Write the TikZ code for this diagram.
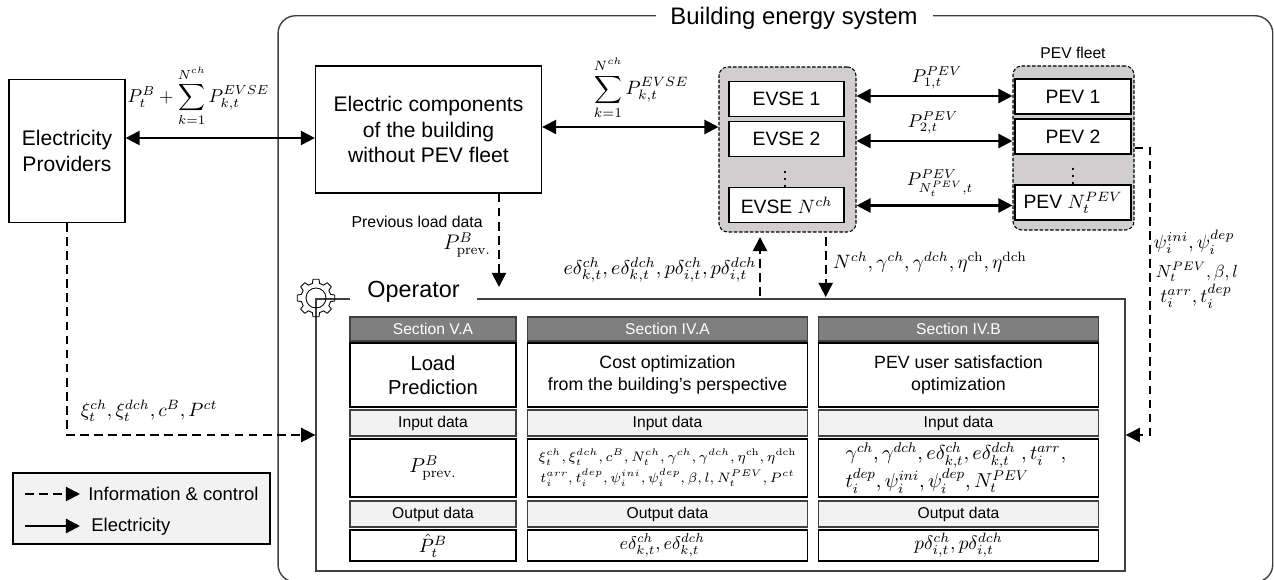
\documentclass[tikz,border=0pt]{standalone}
\usepackage{fix-cm}
\usepackage{amsmath, amssymb}
\usepackage{xcolor}
\usepackage[no-math]{fontspec}
\setmainfont{Liberation Sans}
\usepackage{tikz}
\usetikzlibrary{arrows.meta}

\definecolor{groupgray}{HTML}{D0CECE}
\definecolor{headgray}{HTML}{7F7F7F}
\definecolor{lightgray}{HTML}{F2F2F2}
\definecolor{framegray}{HTML}{404040}

\newcommand{\fs}[1]{\fontsize{#1}{\dimexpr #1pt*6/5\relax}\selectfont}

\tikzset{
	cell/.style = {draw = black, line width = 0.7pt, fill = white, inner sep = 0pt, align = center},
	headcell/.style = {cell, fill = headgray, draw = framegray, text = white, font = \fs{8.9}},
	datacell/.style = {cell, fill = lightgray, draw = framegray, font = \fs{8.9}},
	group/.style = {draw = black, fill = groupgray, line width = 0.6pt, dash pattern = on 2pt off 1pt, rounded corners = 5pt, inner sep = 0pt},
	label/.style = {inner sep = 0pt, align = center},
	elec/.style = {line width = 1.3pt, {Triangle[length = 8pt, width = 8pt]}-{Triangle[length = 8pt, width = 8pt]}},
	info/.style = {line width = 1.1pt, dash pattern = on 5pt off 3pt, -{Triangle[length = 8pt, width = 8pt]}},
}

\begin{document}
\begin{tikzpicture}[x = 0.02cm, y = -0.02cm]
	\def\px{0.02cm}
	\useasboundingbox (0,0) rectangle (1274,580);

	% outer frame and its title
	\node [draw = framegray, line width = 0.8pt, rounded corners = 10pt, minimum width = 994.7*\px, minimum height = 566.3*\px] (bldg) at (775.4,298.9) {};
	\node [fill = white, inner sep = 0pt, minimum width = 277*\px, minimum height = 34*\px, font = \fs{13.6}] (bldgtitle) at (794,18) {Building energy system};

	% top row
	\node [cell, minimum width = 116*\px, minimum height = 143*\px, font = \fs{12}] (prov) at (67,151) {Electricity\\Providers};
	\node [cell, minimum width = 226*\px, minimum height = 127*\px, font = \fs{12}] (comp) at (428.5,129.5) {Electric components\\of the building\\without PEV fleet};

	\node [group, minimum width = 137*\px, minimum height = 165*\px] (evsegrp) at (787.5,149.5) {};
	\node [group, minimum width = 121*\px, minimum height = 164*\px] (pevgrp) at (1073.5,148) {};

	\foreach \nm/\yy/\txt in {evsea/99.2/EVSE 1, evseb/139.2/EVSE 2, evsec/205.2/{EVSE $N^{ch}$}}
		\node [cell, minimum width = 115*\px, minimum height = 35*\px, font = \fs{11}] (\nm) at (786.5,\yy) {\txt};
	\foreach \nm/\yy/\txt in {peva/96.5/PEV 1, pevb/136.5/PEV 2, pevc/202.5/{PEV $N_t^{PEV}$}}
		\node [cell, minimum width = 116*\px, minimum height = 35*\px, font = \fs{11}] (\nm) at (1073,\yy) {\txt};
	\node [label, font = \fs{11}] (evsedots) at (785,174) {$\vdots$};
	\node [label, font = \fs{11}] (pevdots) at (1073,171) {$\vdots$};
	\node [label, font = \fs{8.9}] (pevtitle) at (1073,53) {PEV fleet};

	% operator
	\node [draw = framegray, line width = 0.8pt, minimum width = 809*\px, minimum height = 272*\px] (oper) at (720.5,435) {};
	\node [fill = white, inner sep = 0pt, minimum width = 127*\px, minimum height = 30*\px, font = \fs{13.3}] (opertitle) at (413.5,292) {Operator};
	\draw [line width = 0.5pt, line join = round, shift = {(316,298)}] (-31:15)
		\foreach \a in {0,45,...,315} { -- (\a-14:15) -- (\a-9:19) -- (\a+9:19) -- (\a+14:15) } -- cycle;
	\draw [line width = 0.5pt] (316,298) circle [radius = 10];

	\foreach \col/\xc/\colw/\sectname/\ttlsize/\ttl in {a/433/166/Section V.A/11.5/{Load\\Prediction}, b/667.5/280/Section IV.A/10.1/{Cost optimization\\from the building's perspective}, c/958.5/280/Section IV.B/10.1/{PEV user satisfaction\\optimization}} {
		\node [headcell, minimum width = \colw*\px, minimum height = 24*\px] (head\col) at (\xc,329) {\sectname};
		\node [cell, minimum width = \colw*\px, minimum height = 64*\px, font = \fs{\ttlsize}] (title\col) at (\xc,375) {\ttl};
		\node [datacell, minimum width = \colw*\px, minimum height = 26*\px] (in\col) at (\xc,423) {Input data};
		\node [datacell, minimum width = \colw*\px, minimum height = 26*\px] (out\col) at (\xc,514) {Output data};
	}

	\node [cell, minimum width = 166*\px, minimum height = 58*\px, font = \fs{11.5}] (vala) at (433,468) {$P_{\mathrm{prev.}}^{B}$};
	\node [cell, minimum width = 280*\px, minimum height = 58*\px, font = \fs{7.8}] (valb) at (667.5,468) {$\xi_t^{ch}, \xi_t^{dch}, c^{B}, N_t^{ch}, \gamma^{ch}, \gamma^{dch}, \eta^{\mathrm{ch}}, \eta^{\mathrm{dch}}$\\[1pt]$t_i^{arr}, t_i^{dep}, \psi_i^{ini}, \psi_i^{dep}, \beta, l, N_t^{PEV}, P^{ct}$};
	\node [cell, minimum width = 280*\px, minimum height = 58*\px, font = \fs{11.5}, align = left, text width = 226*\px] (valc) at (958.5,468) {$\gamma^{ch}, \gamma^{dch}, e\delta_{k,t}^{ch}, e\delta_{k,t}^{dch}\;, t_i^{arr},$\\[-1pt]$t_i^{dep}, \psi_i^{ini}, \psi_i^{dep}, N_t^{PEV}$};
	\node [cell, minimum width = 166*\px, minimum height = 31*\px, font = \fs{11}] (resa) at (433,545.5) {$\hat{P}_t^{B}$};
	\node [cell, minimum width = 280*\px, minimum height = 31*\px, font = \fs{10.5}] (resb) at (667.5,545.5) {\hspace{-6pt}$e\delta_{k,t}^{ch}, e\delta_{k,t}^{dch}$};
	\node [cell, minimum width = 280*\px, minimum height = 31*\px, font = \fs{11}] (resc) at (958.5,545.5) {$p\delta_{i,t}^{ch}, p\delta_{i,t}^{dch}$};

	% legend
	\node [datacell, draw = black, minimum width = 257*\px, minimum height = 71*\px] (legend) at (141.5,508.5) {};
	\node [label, anchor = west, font = \fs{10.5}] (legtexta) at (88,494) {Information \& control};
	\node [label, anchor = west, font = \fs{10.5}] (legtextb) at (91,527) {Electricity};
	\coordinate (legafrom) at (25,494);
	\coordinate (legato) at (80,494);
	\coordinate (legbfrom) at (25,526);
	\coordinate (legbto) at (80,526);
	\draw [info] (legafrom) -- (legato);
	\draw [elec, {-Triangle[length = 8pt, width = 8pt]}] (legbfrom) -- (legbto);

	% connectors
	\coordinate (rowp) at (0,138);
	\coordinate (rowc) at (0,127);
	\coordinate (rowa) at (0,96);
	\coordinate (rowb) at (0,141);
	\coordinate (rown) at (0,205.5);
	\draw [elec] (prov.east |- rowp) -- (comp.west |- rowp);
	\draw [elec] (comp.east |- rowc) -- (evsegrp.west |- rowc);
	\foreach \rw in {rowa, rowb, rown}
		\draw [elec] (evsegrp.east |- \rw) -- (pevgrp.west |- \rw);

	\coordinate (prevtip) at (499,287);
	\coordinate (upfrom) at (760,296);
	\coordinate (uptip) at (760,237);
	\coordinate (downfrom) at (825.7,237);
	\coordinate (downtip) at (825.7,297);
	\coordinate (pevturn) at (1150,148);
	\draw [info] (comp.south -| prevtip) -- (prevtip);
	\draw [info] (upfrom) -- (uptip);
	\draw [info] (downfrom) -- (downtip);
	\draw [info] (prov.south) |- (oper.west);
	\draw [info] (pevgrp.east) -- (pevturn) |- (oper.east);

	% labels
	\node [label, font = \fs{10.6}] (lblprov) at (198.5,96) {$P_t^{B} + \displaystyle\sum_{k=1}^{N^{ch}} P_{k,t}^{EVSE}$};
	\node [label, font = \fs{11}] (lblcomp) at (641,88) {$\displaystyle\sum_{k=1}^{N^{ch}} P_{k,t}^{EVSE}$};
	\node [label, font = \fs{10.5}] (lblpa) at (937,78) {$P_{1,t}^{PEV}$};
	\node [label, font = \fs{10.5}] (lblpb) at (933,123) {$P_{2,t}^{PEV}$};
	\node [label, font = \fs{10.5}] (lblpn) at (940,183) {$P_{N_t^{PEV},t}^{PEV}$};
	\node [label, font = \fs{9}, anchor = east] (lblprev) at (483,222) {Previous load data};
	\node [label, font = \fs{12}, anchor = east] (lblprevp) at (491,245) {$P_{\mathrm{prev.}}^{B}$};
	\node [label, font = \fs{11.4}] (lblup) at (660,270) {$e\delta_{k,t}^{ch}, e\delta_{k,t}^{dch}, p\delta_{i,t}^{ch}, p\delta_{i,t}^{dch}$};
	\node [label, font = \fs{11}] (lbldown) at (930,262) {$N^{ch}, \gamma^{ch}, \gamma^{dch}, \eta^{\mathrm{ch}}, \eta^{\mathrm{dch}}$};
	\node [label, font = \fs{11}] (lblpsi) at (1194,242) {$\psi_i^{ini}, \psi_i^{dep}$};
	\node [label, font = \fs{10}] (lblnt) at (1197,272) {$N_t^{PEV}, \beta, l$};
	\node [label, font = \fs{11}] (lblt) at (1196,296) {$t_i^{arr}, t_i^{dep}$};
	\node [label, font = \fs{11}] (lblxi) at (149,411) {$\xi_t^{ch}, \xi_t^{dch}, c^{B}, P^{ct}$};
\end{tikzpicture}
\end{document}
